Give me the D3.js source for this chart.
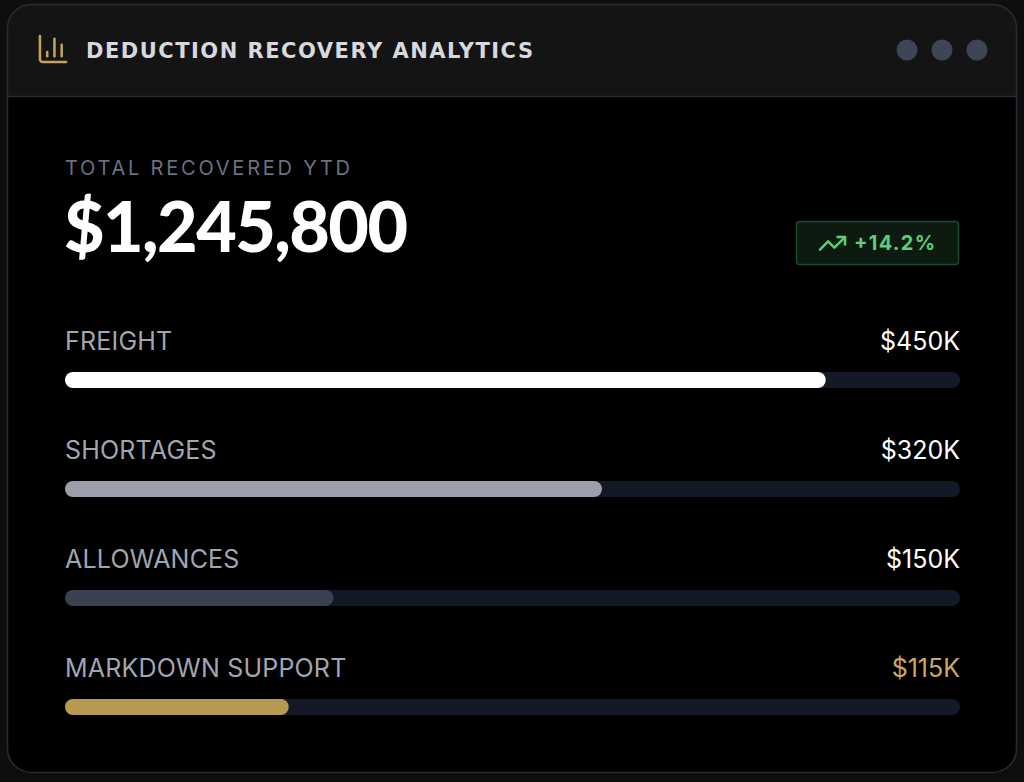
<!DOCTYPE html>
<html><head><meta charset="utf-8">
<script src="https://cdn.jsdelivr.net/npm/d3@7"></script>
<style>
html,body{margin:0;padding:0;background:#0e0e0e;}
svg{display:block;}
</style></head>
<body><svg id="chart" width="1024" height="782"></svg>
<script>
const title = "DEDUCTION RECOVERY ANALYTICS";
const kpiLabel = "TOTAL RECOVERED YTD";
const kpiValue = 1245800;
const kpiChange = 14.2;
const categories = ["FREIGHT", "SHORTAGES", "ALLOWANCES", "MARKDOWN SUPPORT"];
const values = [450, 320, 150, 115];            // $K
const fillPct = [85, 60, 30, 25];               // bar fill, % of track
const fillColors = ["#ffffff", "#9b9fab", "#3a4151", "#b69a52"];
const valueColors = ["#ffffff", "#ffffff", "#ffffff", "#c8a95e"];

const svg = d3.select("#chart");

// card
svg.append("rect").attr("x", 7.5).attr("y", 4.5).attr("width", 1009).attr("height", 768)
  .attr("rx", 24).attr("fill", "#000");
const clip = svg.append("clipPath").attr("id", "cardclip");
clip.append("rect").attr("x", 7.5).attr("y", 4.5).attr("width", 1009).attr("height", 768).attr("rx", 24);
svg.append("rect").attr("x", 7.5).attr("y", 4.5).attr("width", 1009).attr("height", 92)
  .attr("fill", "#141414").attr("clip-path", "url(#cardclip)");
svg.append("line").attr("x1", 8).attr("x2", 1016).attr("y1", 96.5).attr("y2", 96.5)
  .attr("stroke", "#262b36").attr("stroke-width", 1.5);
svg.append("rect").attr("x", 7.5).attr("y", 4.5).attr("width", 1009).attr("height", 768)
  .attr("rx", 24).attr("fill", "none").attr("stroke", "#272c37").attr("stroke-width", 1.5);

// header icon (column chart)
const ic = svg.append("g").attr("transform", "translate(35.6,31.6) scale(1.45)")
  .attr("fill", "none").attr("stroke", "#c4a45a").attr("stroke-width", 1.75)
  .attr("stroke-linecap", "round").attr("stroke-linejoin", "round");
["M3 3v16a2 2 0 0 0 2 2h16", "M18 17V9", "M13 17V5", "M8 17v-3"].forEach(d => ic.append("path").attr("d", d));

svg.append("text").attr("x", 86).attr("y", 57.5).text(title)
  .attr("font-family", "'DejaVu Sans', sans-serif").attr("font-weight", 700).attr("font-size", 21)
  .attr("fill", "#d7d9df").attr("textLength", 447).attr("lengthAdjust", "spacing");

// window dots
svg.selectAll("circle.dot").data([907, 942, 977]).join("circle").attr("class", "dot")
  .attr("cx", d => d).attr("cy", 50).attr("r", 10.5).attr("fill", "#3e4557");

// KPI
svg.append("text").attr("x", 65).attr("y", 175).text(kpiLabel)
  .attr("font-family", "Inter, sans-serif").attr("font-size", 20).attr("fill", "#6b7080")
  .attr("textLength", 285).attr("lengthAdjust", "spacing");
svg.append("text").attr("x", 64).attr("y", 252).text("$" + d3.format(",")(kpiValue))
  .attr("font-family", "Lato, sans-serif").attr("font-weight", 900).attr("font-size", 70)
  .attr("fill", "#ffffff").attr("textLength", 344).attr("lengthAdjust", "spacing");

// badge
svg.append("rect").attr("x", 796.5).attr("y", 221.5).attr("width", 162).attr("height", 43).attr("rx", 3)
  .attr("fill", "#0c1a10").attr("stroke", "#1f4a2a").attr("stroke-width", 1.5);
const tr = svg.append("g").attr("transform", "translate(817.5,228.3) scale(1.25)")
  .attr("fill", "none").attr("stroke", "#5bcf7a").attr("stroke-width", 2)
  .attr("stroke-linecap", "round").attr("stroke-linejoin", "round");
tr.append("polyline").attr("points", "22 7 13.5 15.5 8.5 10.5 2 17");
tr.append("polyline").attr("points", "16 7 22 7 22 13");
svg.append("text").attr("x", 854).attr("y", 250).text("+" + kpiChange.toFixed(1) + "%")
  .attr("font-family", "Inter, sans-serif").attr("font-weight", 700).attr("font-size", 20)
  .attr("fill", "#5bcf7a").attr("textLength", 81).attr("lengthAdjust", "spacing");

// bars
const x = d3.scaleLinear().domain([0, 100]).range([65, 960]);
const rowY = d3.scalePoint().domain(categories).range([350, 677]);
const barH = 16;

const rows = svg.selectAll("g.row").data(categories).join("g").attr("class", "row")
  .attr("transform", d => `translate(0,${rowY(d)})`);
rows.append("text").attr("x", 65).attr("y", 0).text(d => d)
  .attr("font-family", "Inter, sans-serif").attr("font-size", 25).attr("fill", "#a1a5b0")
  .attr("letter-spacing", 0.2);
rows.append("text").attr("x", 960).attr("y", 0).attr("text-anchor", "end")
  .text((d, i) => "$" + values[i] + "K")
  .attr("font-family", "Inter, sans-serif").attr("font-size", 25)
  .attr("fill", (d, i) => valueColors[i]);
rows.append("rect").attr("x", x(0)).attr("y", 22).attr("width", x(100) - x(0)).attr("height", barH)
  .attr("rx", barH / 2).attr("fill", "#131927");
rows.append("rect").attr("x", x(0)).attr("y", 22).attr("width", (d, i) => x(fillPct[i]) - x(0))
  .attr("height", barH).attr("rx", barH / 2).attr("fill", (d, i) => fillColors[i]);
</script></body></html>
